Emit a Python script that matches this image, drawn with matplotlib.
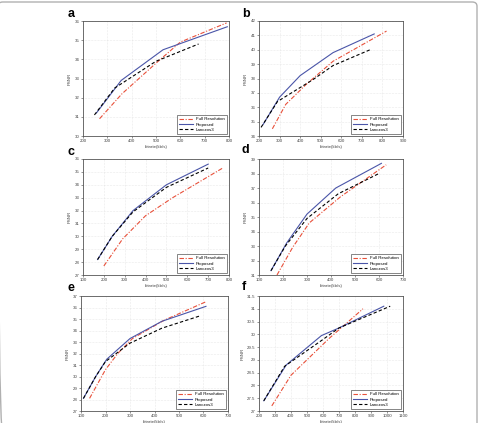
import matplotlib.pyplot as plt
from matplotlib.patches import FancyBboxPatch

# rate-distortion curves, one set of lists per panel
a_full_x = [268, 360, 500, 600, 790]
a_full_y = [30.9, 32.2, 33.8, 34.9, 35.9]
a_prop_x = [255, 357, 529, 793]
a_prop_y = [31.2, 32.9, 34.5, 35.7]
a_lanc_x = [247, 330, 500, 675]
a_lanc_y = [31.1, 32.5, 33.9, 34.8]

b_full_x = [265, 330, 430, 560, 820]
b_full_y = [34.5, 36.2, 37.6, 39.2, 41.3]
b_prop_x = [220, 300, 400, 560, 760]
b_prop_y = [34.8, 36.7, 38.2, 39.8, 41.1]
b_lanc_x = [210, 290, 460, 560, 740]
b_lanc_y = [34.6, 36.4, 37.9, 38.9, 40.0]

c_full_x = [200, 290, 400, 530, 770]
c_full_y = [27.7, 29.8, 31.6, 33.0, 35.3]
c_prop_x = [170, 240, 340, 500, 700]
c_prop_y = [28.2, 30.0, 32.0, 34.0, 35.6]
c_lanc_x = [170, 240, 340, 500, 700]
c_lanc_y = [28.2, 30.0, 31.9, 33.8, 35.3]

d_full_x = [175, 240, 310, 440, 630]
d_full_y = [31.0, 32.9, 34.6, 36.4, 38.6]
d_prop_x = [150, 215, 300, 420, 610]
d_prop_y = [31.3, 33.2, 35.2, 37.0, 38.7]
d_lanc_x = [150, 210, 300, 430, 600]
d_lanc_y = [31.3, 33.0, 34.9, 36.6, 38.0]

e_full_x = [135, 200, 250, 310, 440, 610]
e_full_y = [28.1, 30.6, 32.0, 33.3, 34.9, 36.5]
e_prop_x = [110, 160, 205, 300, 430, 610]
e_prop_y = [28.1, 30.0, 31.5, 33.3, 34.8, 36.1]
e_lanc_x = [110, 160, 200, 300, 430, 590]
e_lanc_y = [28.1, 30.0, 31.3, 32.9, 34.2, 35.3]

f_full_x = [280, 400, 640, 850]
f_full_y = [27.2, 28.4, 29.85, 31.0]
f_prop_x = [230, 370, 590, 700, 980]
f_prop_y = [27.4, 28.8, 29.95, 30.25, 31.1]
f_lanc_x = [230, 360, 600, 700, 1020]
f_lanc_y = [27.4, 28.75, 29.8, 30.25, 31.1]

panels = ['a', 'b', 'c', 'd', 'e', 'f']
xlabels = ['bitrate(kb/s)', 'bitrate(kb/s)', 'bitrate(kb/s)',
           'bitrate(kb/s)', 'bitrate(kb/s)', 'bitrate(kb/s)']
xlims = [(200, 800), (200, 900), (100, 800), (100, 700), (100, 700), (200, 1100)]
ylims = [(30, 36), (34, 42), (27, 36), (31, 39), (27, 37), (27, 31.5)]
ysteps = [1, 1, 1, 1, 1, 0.5]

data = {
    'a': (a_full_x, a_full_y, a_prop_x, a_prop_y, a_lanc_x, a_lanc_y),
    'b': (b_full_x, b_full_y, b_prop_x, b_prop_y, b_lanc_x, b_lanc_y),
    'c': (c_full_x, c_full_y, c_prop_x, c_prop_y, c_lanc_x, c_lanc_y),
    'd': (d_full_x, d_full_y, d_prop_x, d_prop_y, d_lanc_x, d_lanc_y),
    'e': (e_full_x, e_full_y, e_prop_x, e_prop_y, e_lanc_x, e_lanc_y),
    'f': (f_full_x, f_full_y, f_prop_x, f_prop_y, f_lanc_x, f_lanc_y),
}

plt.rcParams['font.family'] = ['Liberation Sans', 'DejaVu Sans']

W, H = 481, 423
fig = plt.figure(figsize=(W / 100, H / 100), dpi=100)

# light frame around the whole figure
fig.patches.append(FancyBboxPatch((-2 / W, -10 / H), 479 / W, 423 / H + 8 / H,
                                  boxstyle='round,pad=0,rounding_size=0.01',
                                  transform=fig.transFigure, fill=False,
                                  edgecolor='#b0b0b0', linewidth=1.0))

# axes boxes in pixels: left, top, right, bottom
boxes = [(83, 21, 229, 136), (259, 21, 403, 136),
         (83, 159, 229, 275), (259, 159, 403, 275),
         (81, 296, 228, 411), (259, 296, 403, 411)]
# panel letter positions in pixels
letters = [(68, 14), (242, 14), (68, 152), (242, 150), (68, 288), (242, 287)]

for i, p in enumerate(panels):
    l, t, r, b = boxes[i]
    ax = fig.add_axes([l / W, 1 - b / H, (r - l) / W, (b - t) / H])
    fx, fy, px, py, lx, ly = data[p]
    ax.plot(fx, fy, color='#e8503a', linestyle=(0, (4, 1.5, 1, 1.5)), linewidth=0.8,
            label='Full Resolution')
    ax.plot(px, py, color='#4a55a8', linestyle='-', linewidth=0.8, label='Proposed')
    ax.plot(lx, ly, color='black', linestyle=(0, (3, 2)), linewidth=0.8, label='Lanczos3')

    x0, x1 = xlims[i]
    y0, y1 = ylims[i]
    ax.set_xlim(x0, x1)
    ax.set_ylim(y0, y1)
    ax.set_xticks(list(range(x0, x1 + 1, 100)))
    yt = []
    v = y0
    while v <= y1 + 1e-9:
        yt.append(v)
        v += ysteps[i]
    ax.set_yticks(yt)
    if ysteps[i] < 1:
        ax.set_yticklabels([('%g' % v) for v in yt])
    ax.tick_params(labelsize=3.2, length=1.5, width=0.4, pad=1, colors='#444444')
    ax.grid(True, linestyle=':', linewidth=0.4, color='#d8d8d8')
    for s in ax.spines.values():
        s.set_linewidth(0.6)
        s.set_color('#555555')
    ax.set_xlabel(xlabels[i], fontsize=3.2, labelpad=1, color='#444444')
    ax.set_ylabel('PSNR', fontsize=3.2, labelpad=2, color='#444444')
    ax.legend(loc='lower right', fontsize=3.2, handlelength=3, borderpad=0.4,
              labelspacing=0.3, fancybox=False, edgecolor='#555555', framealpha=1)
    ax.legend_.get_frame().set_linewidth(0.5)
    lx0, ly0 = letters[i]
    fig.text(lx0 / W, 1 - ly0 / H, p, fontsize=9, fontweight='bold',
             ha='left', va='center')

fig.savefig('out.png', dpi=100)
